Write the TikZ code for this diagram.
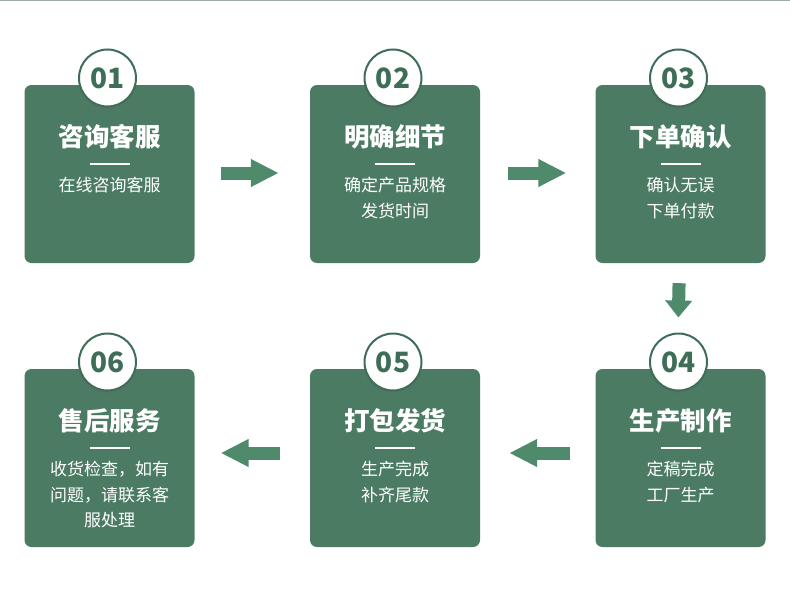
\documentclass[tikz,border=0pt]{standalone}
\usepackage{fontspec}
\newfontfamily\cjk{Noto Sans CJK SC}
\usetikzlibrary{arrows.meta,shadows}
\definecolor{boxgreen}{HTML}{4B7B63}
\definecolor{arrowgreen}{HTML}{4F8A6C}
\definecolor{numgreen}{HTML}{3E6E57}
\definecolor{topline}{HTML}{9AAEA3}
\tikzset{
  stepbox/.style={fill=boxgreen, rounded corners=7pt, minimum width=170pt, minimum height=178pt, inner sep=0pt},
  badge/.style={circle, fill=white, draw=numgreen, line width=2pt, minimum size=57pt, inner sep=0pt,
    font=\cjk\bfseries\fontsize{28}{28}\selectfont, text=numgreen,
    drop shadow={shadow xshift=-0.5pt, shadow yshift=-2.5pt, opacity=0.45, fill=black!60}},
  ttl/.style={text=white, font=\cjk\bfseries\fontsize{25.5}{25.5}\selectfont, inner sep=0pt},
  sub/.style={text=white, font=\cjk\fontsize{17}{25.5}\selectfont, align=center, inner sep=0pt, anchor=north},
  sep/.style={draw=white, line width=1.8pt},
  harrow/.style={draw=arrowgreen, line width=13pt, -{Triangle[length=28pt,width=26pt]}},
  varrow/.style={draw=arrowgreen, line width=13pt, -{Triangle[length=17pt,width=26pt]}},
}
\begin{document}
\begin{tikzpicture}[x=1pt,y=-1pt]
\useasboundingbox (0,0) rectangle (790,605);
\fill[white] (0,0) rectangle (790,605);
\fill[topline] (0,0) rectangle (790,1.2);

% boxes
\node[stepbox] (b1) at (109.5,174) {};
\node[stepbox] (b2) at (395,174) {};
\node[stepbox] (b3) at (680.5,174) {};
\node[stepbox] (b4) at (680.5,458) {};
\node[stepbox] (b5) at (395,458) {};
\node[stepbox] (b6) at (109.5,458) {};

% badges
\node[badge] (c1) at (107.5,78) {01};
\node[badge] (c2) at (393,78) {02};
\node[badge] (c3) at (678.5,78) {03};
\node[badge] (c4) at (678.5,362) {04};
\node[badge] (c5) at (393,362) {05};
\node[badge] (c6) at (107.5,362) {06};

% titles
\node[ttl] (t1) at (109.5,137) {咨询客服};
\node[ttl] (t2) at (395,137) {明确细节};
\node[ttl] (t3) at (680.5,137) {下单确认};
\node[ttl] (t4) at (680.5,421) {生产制作};
\node[ttl] (t5) at (395,421) {打包发货};
\node[ttl] (t6) at (109.5,421) {售后服务};

% separators
\foreach \n in {1,...,6}{
  \draw[sep] ([xshift=-20pt,yshift=-27pt]t\n.center) -- ([xshift=20pt,yshift=-27pt]t\n.center);
}

% subtitles
\node[sub] (s1) at (109.5,177) {在线咨询客服};
\node[sub] (s2) at (395,177) {确定产品规格\\发货时间};
\node[sub] (s3) at (680.5,177) {确认无误\\下单付款};
\node[sub] (s4) at (680.5,461) {定稿完成\\工厂生产};
\node[sub] (s5) at (395,461) {生产完成\\补齐尾款};
\node[sub] (s6) at (109.5,461) {收货检查，如有\\问题，请联系客\\服处理};

% arrows
\draw[harrow, shorten <=26pt, shorten >=31pt] ([yshift=1pt]b1.east) -- ([yshift=1pt]b2.west);
\draw[harrow, shorten <=28pt, shorten >=29pt] ([yshift=1pt]b2.east) -- ([yshift=1pt]b3.west);
\draw[varrow, shorten <=20pt, shorten >=15pt] ([xshift=-1pt]b3.south) -- ([xshift=-0.5pt]c4.north);
\draw[harrow, shorten <=25pt, shorten >=29pt] ([yshift=5pt]b4.west) -- ([yshift=5pt]b5.east);
\draw[harrow, shorten <=30pt, shorten >=26pt] ([yshift=5pt]b5.west) -- ([yshift=5pt]b6.east);
\end{tikzpicture}
\end{document}
